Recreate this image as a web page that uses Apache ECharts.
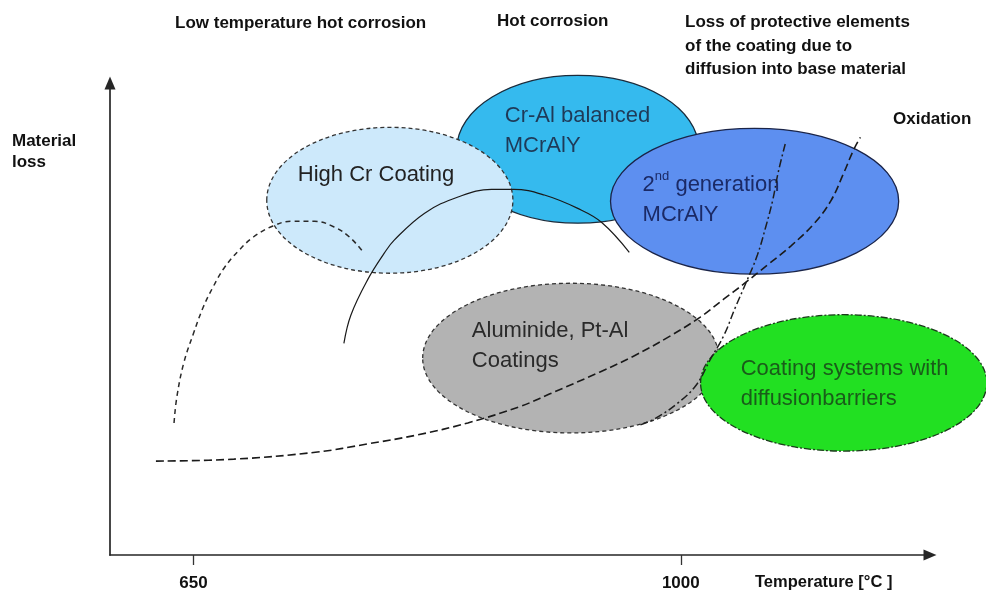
<!DOCTYPE html>
<html>
<head>
<meta charset="utf-8">
<script src="https://cdn.jsdelivr.net/npm/echarts@6.0.0/dist/echarts.min.js"></script>
<style>
  html, body { margin: 0; padding: 0; background: #fff; }
  #chart { width: 986px; height: 592px; }
</style>
</head>
<body>
<div id="chart"></div>
<script>
// material loss is a schematic quantity, plotted on an arbitrary 0..99 scale
const tickTemps = [650, 1000];

// coating regions (ellipses): centre temperature / loss, half width / half height
const regionLabels = [
  'Cr-Al balanced\nMCrAlY',
  'High Cr Coating',
  '{a|2}{s|nd}{a| generation}\n{a|MCrAlY}',
  'Aluminide, Pt-Al\nCoatings',
  'Coating systems with\ndiffusionbarriers'
];
const regionTemp = [926, 791, 1053, 921, 1117];
const regionLoss = [85.1, 74.4, 74.2, 41.3, 36.1];
const regionHalfTemp = [87, 88.4, 103.5, 106.4, 102.8];
const regionHalfLoss = [15.5, 15.3, 15.3, 15.7, 14.3];

// corrosion / degradation curves, [temperature, loss]
const lowTempCorrosion = [[636, 27.7], [638, 33.1], [643, 40.3], [650, 46.5], [657, 52.0], [664, 56.2],
  [672, 60.2], [682, 63.7], [693, 66.7], [707, 69.0], [720, 70.0], [737, 70.0], [751, 68.8], [762, 66.7], [772, 63.5]];
const hotCorrosion = [[758, 44.4], [763, 50.3], [775, 57.7], [787, 63.3], [794, 66.0], [816, 71.7], [840, 75.1],
  [864, 76.7], [880, 76.7], [902, 75.5], [926, 72.7], [943, 69.8], [963, 63.5]];
const oxidation = [[623, 19.7], [679, 20.1], [739, 21.6], [775, 23.3], [811, 25.2], [847, 27.7], [885, 31.2],
  [906, 33.8], [942, 38.4], [966, 41.7], [991, 45.7], [1014, 49.9], [1031, 53.7], [1045, 56.8], [1063, 61.0],
  [1079, 64.8], [1096, 69.6], [1108, 74.4], [1117, 80.1], [1124, 84.9], [1129, 87.6]];
const diffusionLoss = [[971, 27.3], [982, 28.7], [998, 31.9], [1011, 35.6], [1021, 40.9], [1031, 46.1],
  [1039, 51.8], [1047, 57.2], [1055, 62.9], [1061, 68.8], [1066, 74.4], [1070, 80.3], [1075, 86.2]];

const fontFam = '"Liberation Sans", Arial, sans-serif';
const boldFont = 'bold 17px ' + fontFam;

const regionStyles = [
  { fill: '#35baee', stroke: '#1b2b3b', dash: null, color: '#1f3a58', dx: -73, dy: -18 },
  { fill: '#cde9fb', stroke: '#333333', dash: [4, 3], color: '#222222', dx: -92, dy: -25 },
  { fill: '#5d8ff0', stroke: '#1a2448', dash: null, color: '#1b2a66', dx: -112, dy: -1 },
  { fill: '#b3b3b3', stroke: '#333333', dash: [4, 3], color: '#2a2a2a', dx: -99, dy: -12 },
  { fill: '#22e022', stroke: '#1c3a1c', dash: [7, 2, 2, 2], color: '#1a5c1a', dx: -103, dy: 1 }
];

const regionData = regionTemp.map((t, i) => [t, regionLoss[i], regionHalfTemp[i], regionHalfLoss[i]]);

function renderRegion(params, api) {
  const i = params.dataIndex;
  const c = api.coord([api.value(0), api.value(1)]);
  const s = api.size([api.value(2), api.value(3)]);
  const st = regionStyles[i];
  return {
    type: 'group',
    children: [
      {
        type: 'ellipse',
        shape: { cx: c[0], cy: c[1], rx: s[0], ry: s[1] },
        style: { fill: st.fill, stroke: st.stroke, lineWidth: 1.3, lineDash: st.dash }
      },
      {
        type: 'text',
        x: c[0] + st.dx,
        y: c[1] + st.dy,
        style: {
          text: regionLabels[i],
          fill: st.color,
          font: '22px ' + fontFam,
          lineHeight: 30,
          align: 'left', textAlign: 'left',
          verticalAlign: 'middle', textVerticalAlign: 'middle',
          rich: {
            a: { fontSize: 22, fontFamily: fontFam, fill: st.color, lineHeight: 30 },
            s: { fontSize: 13, fontFamily: fontFam, fill: st.color, lineHeight: 13, verticalAlign: 'top' }
          }
        }
      }
    ]
  };
}

const chart = echarts.init(document.getElementById('chart'));

const axisLineStyle = { color: '#262626', width: 1.7 };

function curve(name, data, lineStyle) {
  return { type: 'line', name: name, data: data, smooth: 0.4, symbol: 'none', z: 3, lineStyle: lineStyle };
}

chart.setOption({
  animation: false,
  backgroundColor: '#fff',
  grid: { left: 110, right: 56, top: 83, bottom: 37, containLabel: false, outerBoundsMode: 'none' },
  xAxis: {
    type: 'value',
    min: 590,
    max: 1179,
    splitLine: { show: false },
    axisLine: { show: true, onZero: false, symbol: ['none', 'triangle'], symbolSize: [11, 13], lineStyle: axisLineStyle },
    axisTick: { show: true, customValues: tickTemps, length: 10, lineStyle: { color: '#333', width: 1.3 } },
    axisLabel: { customValues: tickTemps, formatter: v => String(v), margin: 20, color: '#111', fontSize: 17, fontWeight: 'bold', fontFamily: fontFam }
  },
  yAxis: {
    type: 'value',
    min: 0,
    max: 99,
    splitLine: { show: false },
    axisLine: { show: true, onZero: false, symbol: ['none', 'triangle'], symbolSize: [11, 13], lineStyle: axisLineStyle },
    axisTick: { show: false },
    axisLabel: { show: false }
  },
  graphic: [
    { type: 'text', left: 175, top: 15, style: { text: 'Low temperature hot corrosion', font: boldFont, fill: '#111' } },
    { type: 'text', left: 497, top: 13, style: { text: 'Hot corrosion', font: boldFont, fill: '#111' } },
    { type: 'text', left: 685, top: 11, style: { text: 'Loss of protective elements\nof the coating due to\ndiffusion into base material', font: boldFont, lineHeight: 23.5, fill: '#111' } },
    { type: 'text', left: 893, top: 111, style: { text: 'Oxidation', font: boldFont, fill: '#111' } },
    { type: 'text', left: 12, top: 131, style: { text: 'Material\nloss', font: boldFont, lineHeight: 21, fill: '#111' } },
    { type: 'text', left: 755, top: 574, style: { text: 'Temperature [°C ]', font: 'bold 16.5px ' + fontFam, fill: '#111' } }
  ],
  series: [
    { type: 'custom', renderItem: renderRegion, data: regionData, z: 1, silent: true },
    curve('Low temperature hot corrosion', lowTempCorrosion, { color: '#2a2a2a', width: 1.5, type: [5, 4] }),
    curve('Hot corrosion', hotCorrosion, { color: '#1a1a1a', width: 1.2, type: 'solid' }),
    curve('Oxidation', oxidation, { color: '#1a1a1a', width: 1.6, type: [8, 4] }),
    curve('Diffusion', diffusionLoss, { color: '#1e1e1e', width: 1.5, type: [8, 3, 2, 3] })
  ]
});
</script>
</body>
</html>
